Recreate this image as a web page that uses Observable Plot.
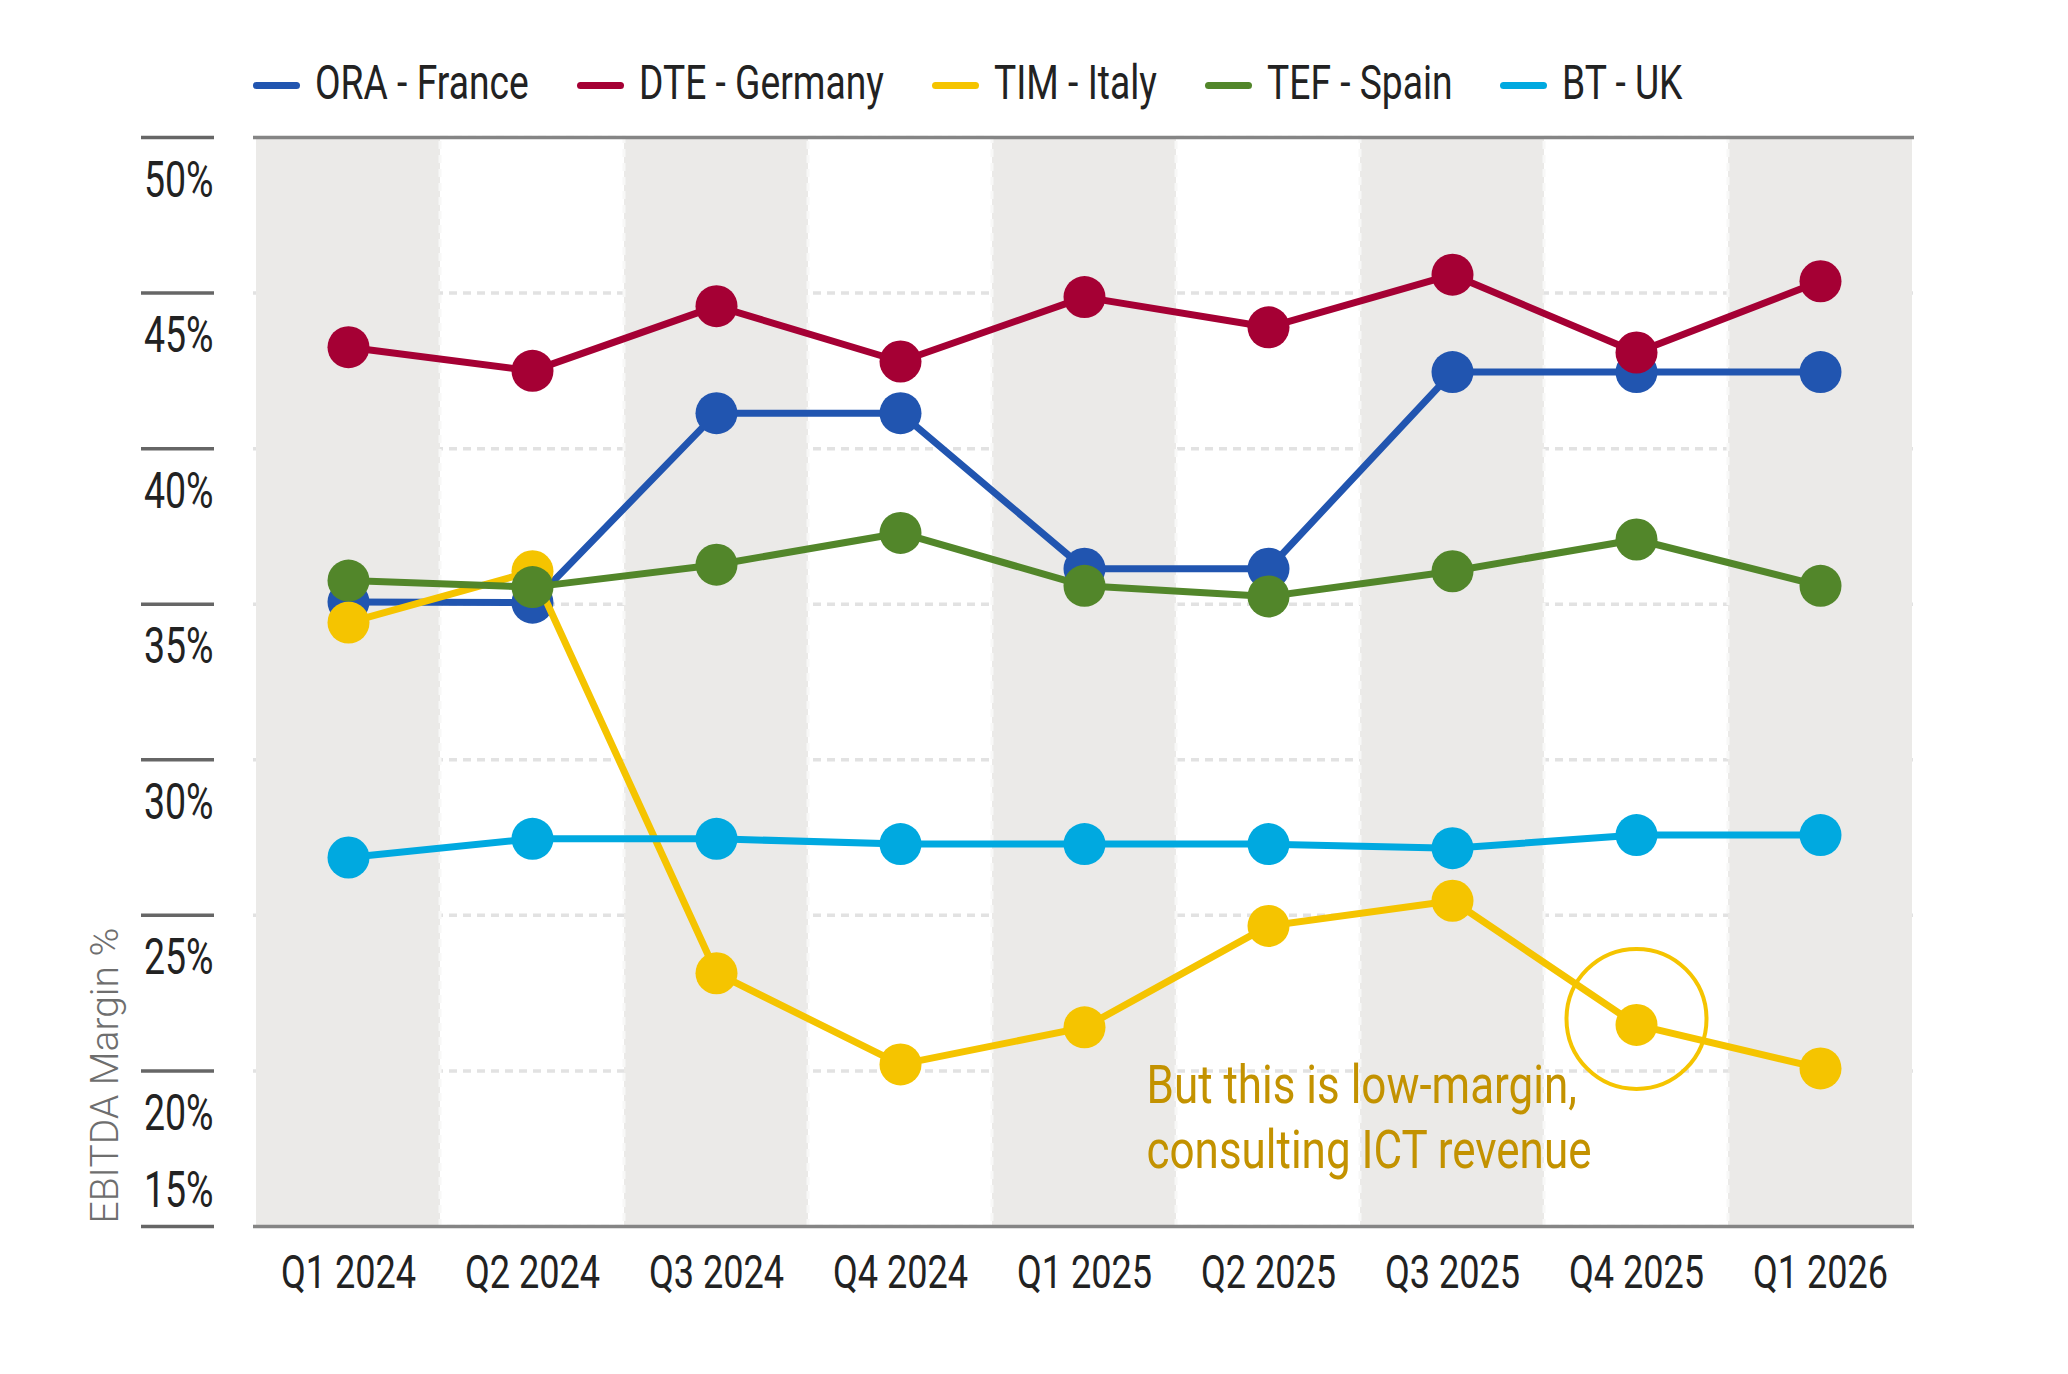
<!DOCTYPE html>
<html><head><meta charset="utf-8">
<script src="https://cdn.jsdelivr.net/npm/d3@7"></script>
<script src="https://cdn.jsdelivr.net/npm/@observablehq/plot@0.6"></script>
<style>
body{margin:0;background:#fff;width:2068px;height:1374px;overflow:hidden;font-family:Roboto,"Liberation Sans",sans-serif;}
#legend{height:62px;padding-top:58px;padding-left:253px;display:flex;align-items:flex-start;}
.item{display:flex;align-items:center;margin-right:48px;font-size:49px;line-height:50px;color:#222;}
.sw{display:inline-block;width:47px;height:7px;border-radius:4px;margin-right:15px;position:relative;top:2px;}
.lt{display:inline-block;transform-origin:left center;white-space:nowrap;}
svg{overflow:visible;}
</style></head>
<body><div id="legend"></div><div id="chart"></div>
<script>
const quarters = ["Q1 2024","Q2 2024","Q3 2024","Q4 2024","Q1 2025","Q2 2025","Q3 2025","Q4 2025","Q1 2026"];
const seriesNames = ["ORA - France","DTE - Germany","TIM - Italy","TEF - Spain","BT - UK"];
const seriesColors = ["#2155b0","#a50034","#f5c400","#52862a","#00a9e0"];
const oraFrance   = [35.07, 35.05, 41.14, 41.14, 36.14, 36.14, 42.46, 42.46, 42.46];
const dteGermany  = [43.26, 42.50, 44.58, 42.80, 44.87, 43.90, 45.59, 43.09, 45.38];
const timItaly    = [34.41, 36.06, 23.14, 20.21, 21.40, 24.66, 25.47, 21.48, 20.08];
const tefSpain    = [35.76, 35.55, 36.27, 37.29, 35.59, 35.25, 36.06, 37.08, 35.59];
const btUK        = [26.86, 27.46, 27.46, 27.29, 27.29, 27.29, 27.16, 27.58, 27.58];
const seriesValues = [oraFrance, dteGermany, timItaly, tefSpain, btUK];
const yTicks = [15, 20, 25, 30, 35, 40, 45, 50];
const yDomain = [15, 50];
const yTitle = "EBITDA Margin %";
const annotationText = "But this is low-margin,\nconsulting ICT revenue";
const annotationQuarter = "Q4 2025";

const FONT = 'Roboto,"Liberation Sans",sans-serif';

// legend (HTML, text horizontally condensed)
const legend = document.getElementById("legend");
const LEGEND_SX = 0.76;
seriesNames.forEach((n, i) => {
  const it = document.createElement("div");
  it.className = "item";
  it.innerHTML = `<span class="sw" style="background:${seriesColors[i]}"></span><span class="lt">${n}</span>`;
  legend.appendChild(it);
  const lt = it.querySelector(".lt");
  const w = lt.offsetWidth;
  lt.style.transform = `scaleX(${LEGEND_SX})`;
  lt.style.marginRight = `${-(1 - LEGEND_SX) * w}px`;
});

const shaded = quarters.filter((q, i) => i % 2 === 0);
const unshaded = quarters.filter((q, i) => i % 2 === 1);

const seriesMarks = [];
seriesNames.forEach((name, s) => {
  const data = quarters.map((q, i) => ({quarter: q, value: seriesValues[s][i], name}));
  seriesMarks.push(Plot.line(data, {x: "quarter", y: "value", stroke: seriesColors[s], strokeWidth: 7}));
  seriesMarks.push(Plot.dot(data, {x: "quarter", y: "value", r: 21, fill: seriesColors[s], stroke: "none"}));
});

const annIdx = quarters.indexOf(annotationQuarter);
const annDatum = [{quarter: annotationQuarter, value: timItaly[annIdx]}];

const chart = Plot.plot({
  width: 2068,
  height: 1254,
  marginTop: 17,
  marginBottom: 148,
  marginLeft: 253,
  marginRight: 154,
  style: {fontFamily: FONT, background: "transparent", overflow: "visible"},
  x: {type: "band", domain: quarters, padding: 0, axis: null},
  y: {domain: yDomain, axis: null},
  marks: [
    Plot.ruleY(yTicks.filter(v => v > yDomain[0] && v < yDomain[1]), {stroke: "#e2e2e2", strokeWidth: 3.5, strokeDasharray: "8,6"}),
    Plot.barY(shaded, {x: d => d, y1: () => yDomain[0], y2: () => yDomain[1], fill: "#ebeae8"}),
    Plot.barY(unshaded, {x: d => d, y1: () => yDomain[0], y2: () => yDomain[1], fill: "none", stroke: "#f8f8f7", strokeWidth: 3, strokeDasharray: "8,6"}),
    Plot.ruleY(yDomain, {stroke: "#858585", strokeWidth: 3.5}),
    Plot.axisY(yTicks, {anchor: "left", tickSize: 73, dx: -39, fill: "none", stroke: "#666", strokeWidth: 3.5, label: null}),
    Plot.text(yTicks.filter(v => v > yDomain[0]), {y: d => d, text: d => d + "%", frameAnchor: "left", textAnchor: "end", dx: -40, dy: 43, fontSize: 50, fill: "#222", ariaDescription: "c75"}),
    Plot.text(yTicks.filter(v => v === yDomain[0]), {y: d => d, text: d => d + "%", frameAnchor: "left", textAnchor: "end", dx: -40, dy: -36, fontSize: 50, fill: "#222", ariaDescription: "c75"}),
    Plot.text(quarters, {x: d => d, text: d => d, frameAnchor: "bottom", dy: 61, fontSize: 46, fill: "#222", ariaDescription: "c785"}),
    Plot.text([yTitle], {text: d => d, frameAnchor: "bottom-left", rotate: -90, textAnchor: "start", dx: -136, dy: -3, fontSize: 39, fontWeight: 300, fill: "#6e6e6e"}),
    ...seriesMarks,
    Plot.dot(annDatum, {x: "quarter", y: "value", r: 70, fill: "none", stroke: "#f5c400", strokeWidth: 4, dy: -6}),
    Plot.text(annDatum, {x: "quarter", y: "value", text: () => annotationText, textAnchor: "start", lineAnchor: "top", dx: -490, dy: 32, fontSize: 53, lineHeight: 1.226, fill: "#c39200", ariaDescription: "c83"})
  ]
});
document.getElementById("chart").appendChild(chart);

// horizontally condense tagged text groups around their anchors
const factors = {c75: 0.75, c785: 0.785, c83: 0.83};
for (const [key, sx] of Object.entries(factors)) {
  chart.querySelectorAll(`g[aria-description="${key}"] text`).forEach(t => {
    let tr = t.getAttribute("transform");
    if (!tr) {
      const x = +(t.getAttribute("x") || 0), y = +(t.getAttribute("y") || 0);
      t.removeAttribute("x"); t.removeAttribute("y");
      tr = `translate(${x},${y})`;
    }
    t.setAttribute("transform", `${tr} scale(${sx},1)`);
  });
}
</script>
</body></html>
